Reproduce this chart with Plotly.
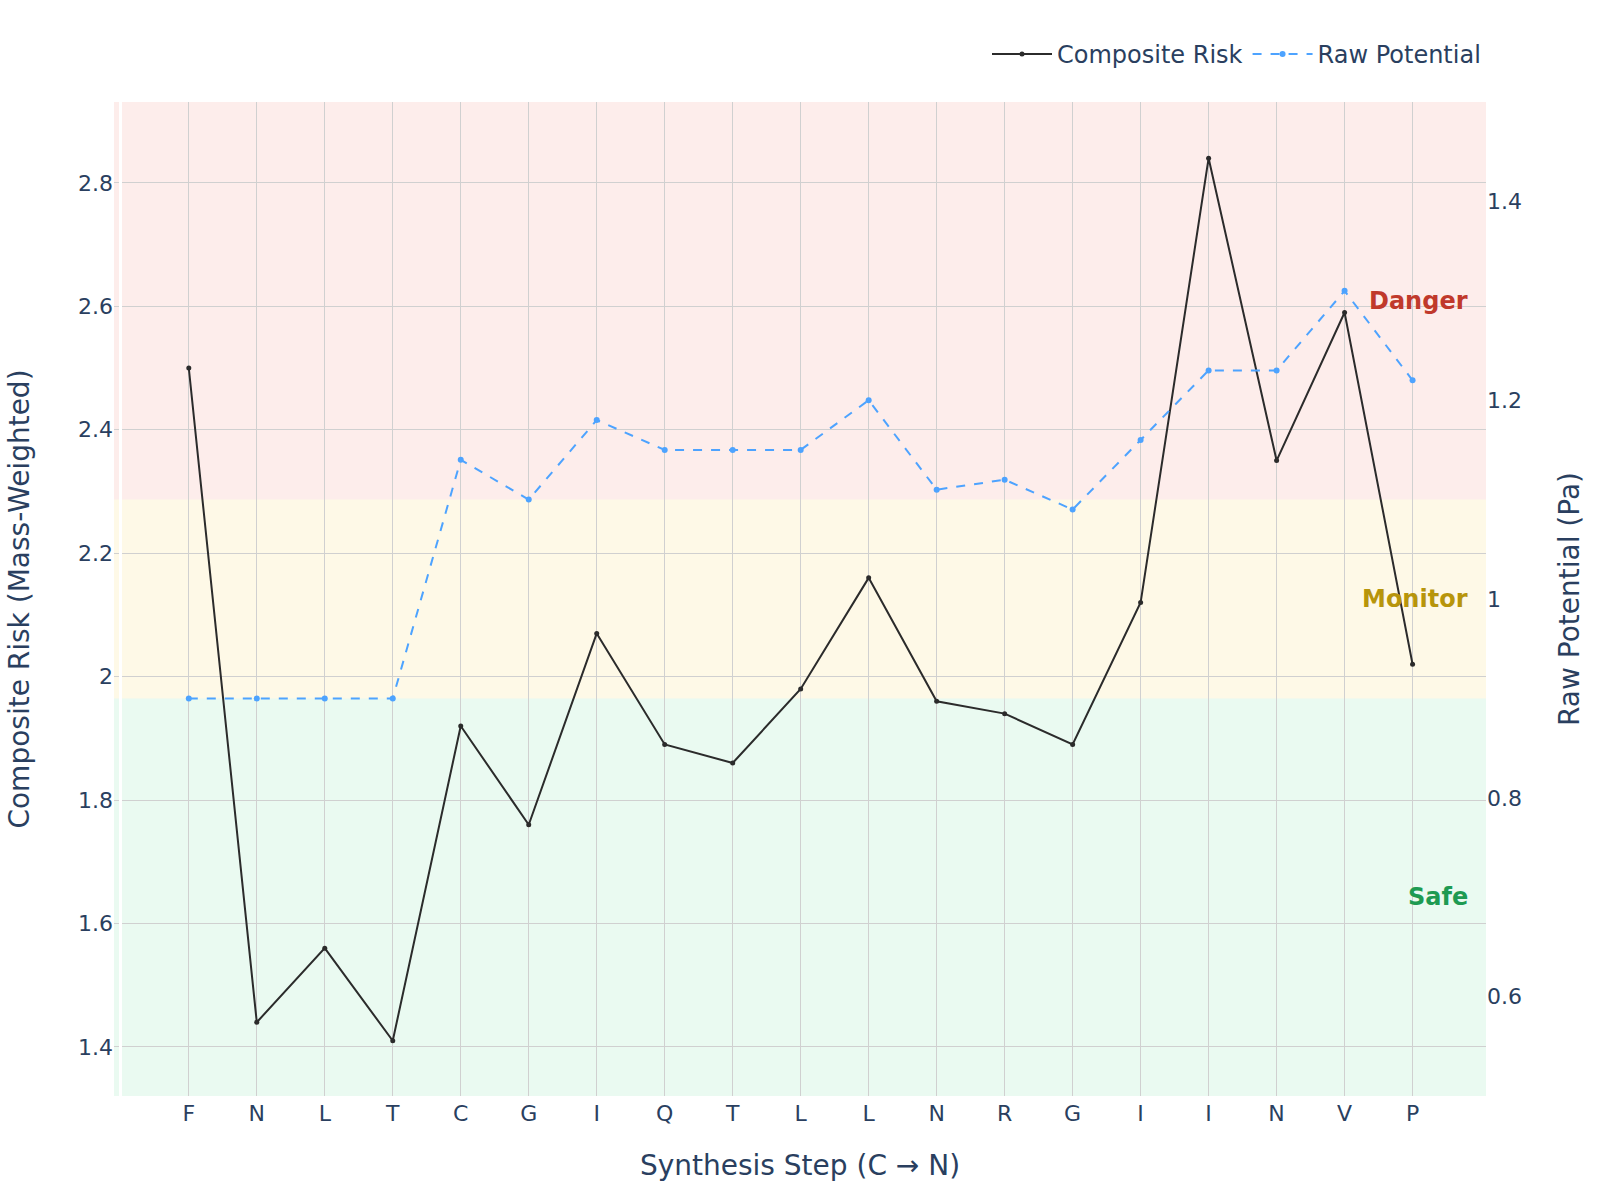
import plotly.graph_objects as go

steps = ["F", "N", "L", "T", "C", "G", "I", "Q", "T", "L", "L", "N", "R", "G", "I", "I", "N", "V", "P"]
positions = list(range(1, len(steps) + 1))
composite_risk = [2.50, 1.44, 1.56, 1.41, 1.92, 1.76, 2.07, 1.89, 1.86, 1.98, 2.16, 1.96, 1.94, 1.89, 2.12, 2.84, 2.35, 2.59, 2.02]
raw_potential = [0.90, 0.90, 0.90, 0.90, 1.14, 1.10, 1.18, 1.15, 1.15, 1.15, 1.20, 1.11, 1.12, 1.09, 1.16, 1.23, 1.23, 1.31, 1.22]

zones = [
    ("Safe", 0.5, 0.9, "rgba(46,204,113,0.1)", "#1e9a52", 0.7),
    ("Monitor", 0.9, 1.1, "rgba(241,196,15,0.1)", "#b7950b", 1.0),
    ("Danger", 1.1, 1.5, "rgba(231,76,60,0.1)", "#c0392b", 1.3),
]

font_family = "Verdana, DejaVu Sans, sans-serif"
text_color = "#2a3f5f"

fig = go.Figure()
fig.add_trace(go.Scatter(
    x=positions, y=composite_risk, name="Composite Risk", mode="lines+markers",
    line=dict(color="#2b2b2b", width=2), marker=dict(size=5, color="#2b2b2b"),
    yaxis="y",
))
fig.add_trace(go.Scatter(
    x=positions, y=raw_potential, name="Raw Potential", mode="lines+markers",
    line=dict(color="#4da3ff", width=2, dash="dash"), marker=dict(size=6, color="#4da3ff"),
    yaxis="y2",
))

for name, y0, y1, fill, tcol, ylab in zones:
    fig.add_shape(type="rect", xref="paper", yref="y2", x0=0, x1=1, y0=y0, y1=y1,
                  fillcolor=fill, line=dict(width=0), layer="below")
    fig.add_annotation(xref="paper", yref="y2", x=0.988, y=ylab, text="<b>%s</b>" % name,
                       showarrow=False, xanchor="right", yanchor="middle",
                       font=dict(size=24, color=tcol, family=font_family))

fig.update_layout(
    width=1600, height=1200,
    paper_bgcolor="white", plot_bgcolor="white",
    font=dict(family=font_family, size=22, color=text_color),
    margin=dict(l=114, r=114, t=102, b=104),
    showlegend=True,
    legend=dict(orientation="h", x=1, xanchor="right", y=1.048, yanchor="middle",
                font=dict(size=24), bgcolor="rgba(0,0,0,0)", itemwidth=60),
    xaxis=dict(
        title=dict(text="Synthesis Step (C → N)", font=dict(size=28), standoff=30),
        tickmode="array", tickvals=positions, ticktext=steps,
        range=[-0.1, 20.08],
        showgrid=True, gridcolor="#d0d0d0", gridwidth=1,
        zeroline=True, zerolinecolor="white", zerolinewidth=3,
        tickfont=dict(size=22), ticklabelstandoff=2,
    ),
    yaxis=dict(
        title=dict(text="Composite Risk (Mass-Weighted)", font=dict(size=28), standoff=40),
        range=[1.3205, 2.931],
        showgrid=True, gridcolor="#d0d0d0", gridwidth=1,
        zeroline=False, tickfont=dict(size=22),
    ),
    yaxis2=dict(
        title=dict(text="Raw Potential (Pa)", font=dict(size=28), standoff=38),
        overlaying="y", side="right", range=[0.5, 1.5],
        showgrid=False, zeroline=False, tickfont=dict(size=22),
    ),
)

fig.write_html("out.html")
